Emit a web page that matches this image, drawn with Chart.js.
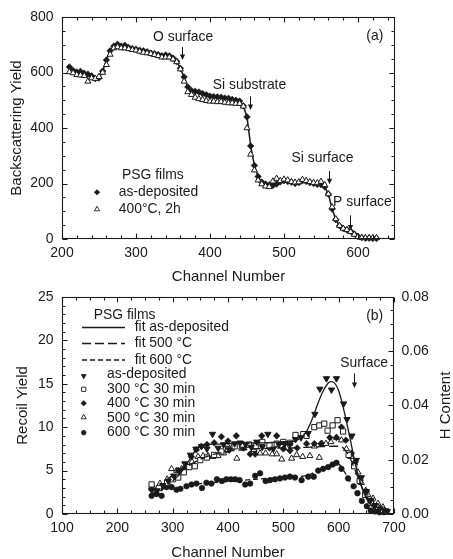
<!DOCTYPE html>
<html>
<head>
<meta charset="utf-8">
<title>PSG films: RBS and ERD spectra</title>
<script src="https://cdn.jsdelivr.net/npm/chart.js@4.4.1/dist/chart.umd.min.js"></script>
<style>
  html, body { margin: 0; padding: 0; background: #fff; width: 453px; height: 559px; overflow: hidden; }
  .panel { position: absolute; left: 0; }
  #panelA { top: 0; }
  #panelB { top: 280px; }
</style>
</head>
<body>
<canvas id="panelA" class="panel" width="453" height="300"></canvas>
<canvas id="panelB" class="panel" width="453" height="290"></canvas>
<script>
// ---------- Panel (a): RBS backscattering spectra ----------
const rbsChannels = [
  210, 215, 220, 225, 230, 235, 240, 245, 250, 255,
  260, 265, 270, 275, 280, 285, 290, 295, 300, 305,
  310, 315, 320, 325, 330, 335, 340, 345, 350, 355,
  360, 365, 370, 375, 380, 385, 390, 395, 400, 405,
  410, 415, 420, 425, 430, 435, 440, 445, 450, 455,
  460, 465, 470, 475, 480, 485, 490, 495, 500, 505,
  510, 515, 520, 525, 530, 535, 540, 545, 550, 555,
  560, 565, 570, 575, 580, 585, 590, 595, 600, 605,
  610, 615, 620, 625
];
const rbsAsDeposited = [
  620, 607, 602, 604, 597, 594, 588, 578, 580, 605,
  645, 678, 695, 702, 695, 698, 690, 686, 684, 680,
  678, 675, 670, 668, 665, 660, 663, 660, 652, 640,
  615, 584, 548, 535, 532, 530, 524, 520, 515, 513,
  512, 511, 508, 507, 503, 500, 497, 480, 440, 335,
  265, 225, 205, 198, 195, 193, 198, 206, 210, 207,
  205, 200, 203, 210, 207, 203, 200, 197, 196, 188,
  162, 108, 70, 48, 38, 33, 28, 18, 9, 5,
  3, 3, 2, 2
];
const rbsAnnealed400 = [
  602, 598, 592, 590, 588, 568, 580, 578, 585, 600,
  628, 665, 688, 692, 688, 688, 685, 682, 680, 676,
  672, 670, 668, 664, 660, 655, 655, 655, 648, 638,
  612, 568, 530, 520, 510, 505, 502, 498, 496, 496,
  494, 495, 492, 490, 490, 488, 488, 478, 400, 305,
  248, 212, 198, 190, 188, 208, 218, 210, 215, 212,
  206, 204, 205, 214, 210, 206, 203, 202, 207, 195,
  162, 115, 72, 48, 38, 33, 26, 16, 8, 5,
  4, 4, 4, 4
];
const rbsXTicks = [200, 300, 400, 500, 600];
const rbsYTicks = [0, 200, 400, 600, 800];

// ---------- Panel (b): ERD hydrogen recoil spectra ----------
const erdAsDepCh = [262, 272, 282, 292, 302, 312, 322, 332, 342, 352, 362, 372, 382, 392, 402, 412, 422, 432, 442, 452, 462, 472, 482, 492, 502, 512, 522, 532, 545, 557, 566, 578, 587, 596, 609, 615, 624, 632, 641, 650, 658, 666, 674, 682, 688];
const erdAsDepYield = [2.8, 2.7, 3.3, 3.8, 4.4, 5.0, 5.8, 6.8, 7.5, 7.8, 7.5, 9.2, 7.6, 8.0, 7.4, 8.1, 8.2, 8.0, 7.7, 8.3, 7.7, 9.2, 7.5, 8.0, 8.1, 8.0, 8.6, 8.8, 9.3, 11.5, 14.4, 15.6, 14.3, 15.6, 12.7, 10.9, 9.0, 6.2, 4.2, 2.6, 1.6, 1.0, 0.6, 0.4, 0.3];

const erd300Ch = [262, 275, 290, 300, 310, 320, 330, 340, 350, 362, 375, 388, 400, 412, 425, 438, 450, 462, 475, 488, 500, 512, 522, 536, 542, 556, 565, 574, 580, 589, 598, 608, 618, 628, 638, 648, 658, 668, 678, 686];
const erd300Yield = [3.4, 3.0, 3.6, 4.0, 4.2, 4.8, 5.4, 5.5, 6.2, 6.5, 6.8, 7.2, 7.4, 7.8, 8.0, 8.0, 7.8, 8.3, 7.9, 8.1, 8.3, 8.2, 9.1, 9.2, 9.0, 10.0, 10.2, 10.4, 9.6, 10.2, 10.8, 9.5, 6.8, 5.5, 3.8, 2.2, 1.3, 0.8, 0.5, 0.3];

const erd400Ch = [262, 270, 280, 290, 300, 310, 320, 334, 343, 352, 362, 375, 388, 400, 415, 428, 440, 449, 461, 475, 488, 500, 512, 525, 542, 556, 568, 584, 596, 605, 613, 623, 630, 639, 650, 659, 668, 676, 684];
const erd400Yield = [2.8, 2.4, 3.0, 3.5, 4.2, 5.0, 5.2, 6.6, 7.4, 7.8, 8.0, 8.2, 8.9, 8.4, 9.0, 7.6, 6.9, 6.9, 9.0, 7.6, 9.0, 7.5, 7.3, 7.6, 8.1, 8.1, 8.1, 8.8, 8.8, 10.0, 8.5, 7.0, 6.0, 3.9, 2.6, 1.4, 0.8, 0.5, 0.3];

const erd500Ch = [265, 277, 290, 298, 307, 316, 325, 335, 346, 355, 364, 373, 382, 392, 398, 407, 416, 425, 434, 447, 458, 468, 480, 488, 497, 506, 515, 524, 535, 548, 556, 565, 570, 577, 586, 596, 605, 614, 622, 629, 635, 641, 649, 653, 662, 671, 680];
const erd500Yield = [3.0, 3.5, 4.0, 5.2, 5.0, 5.2, 5.4, 6.0, 6.6, 6.7, 6.7, 6.6, 6.7, 7.0, 8.0, 7.6, 6.4, 7.7, 7.9, 7.4, 7.0, 7.0, 6.9, 6.9, 6.3, 7.6, 6.4, 6.8, 6.6, 6.7, 7.8, 6.5, 8.1, 8.1, 8.3, 8.8, 8.5, 7.5, 6.6, 5.9, 4.8, 3.6, 2.7, 2.2, 1.8, 1.2, 0.8];

const erd600Ch = [262, 271, 280, 289, 298, 307, 314, 325, 334, 343, 353, 361, 370, 380, 389, 397, 405, 413, 421, 431, 440, 449, 458, 468, 476, 485, 494, 503, 512, 521, 533, 545, 555, 563, 572, 581, 589, 596, 605, 617, 627, 634, 642, 651, 658, 666, 674, 682];
const erd600Yield = [2.1, 2.3, 2.1, 3.1, 3.1, 2.8, 2.9, 3.2, 3.4, 3.5, 3.0, 3.6, 3.5, 4.0, 3.8, 4.0, 4.0, 4.0, 3.9, 3.4, 3.5, 4.4, 4.7, 3.8, 3.9, 4.0, 4.1, 4.2, 4.3, 4.2, 3.9, 4.3, 4.3, 5.0, 5.2, 5.4, 5.7, 5.9, 5.2, 4.1, 3.2, 2.4, 1.5, 0.9, 0.4, 0.3, 0.2, 0.2];

const fitAsDepCh = [300, 310, 320, 330, 340, 350, 360, 380, 400, 420, 440, 460, 480, 500, 520, 530, 540, 550, 560, 570, 580, 585, 590, 600, 610, 620, 630, 640, 650, 660, 670];
const fitAsDepYield = [3.8, 4.4, 5.2, 6.2, 7.2, 7.8, 8.0, 8.05, 8.1, 8.15, 8.2, 8.2, 8.25, 8.3, 8.4, 8.7, 9.3, 10.6, 12.3, 13.9, 15.0, 15.25, 15.2, 14.2, 11.8, 8.9, 5.8, 3.4, 1.8, 0.9, 0.4];

const fit500Ch = [290, 310, 330, 350, 370, 390, 410, 430, 450, 470, 490, 510, 530, 550, 570, 590, 600, 610, 620, 630, 640, 650, 660, 670];
const fit500Yield = [4.0, 4.8, 5.6, 6.3, 6.8, 7.1, 7.3, 7.4, 7.5, 7.55, 7.6, 7.6, 7.65, 7.7, 7.75, 7.8, 7.8, 7.5, 6.5, 5.0, 3.4, 2.0, 1.0, 0.4];

const fit600Ch = [330, 350, 370, 390, 410, 430, 450, 470, 490, 510, 530, 545, 560, 575, 590, 600, 610, 620, 630, 640, 650, 660];
const fit600Yield = [3.4, 3.5, 3.6, 3.7, 3.8, 3.9, 4.0, 4.1, 4.15, 4.2, 4.3, 4.5, 4.9, 5.3, 5.7, 5.7, 4.9, 3.8, 2.6, 1.6, 0.8, 0.3];

const erdXTicks = [100, 200, 300, 400, 500, 600, 700];
const erdYTicks = [0, 5, 10, 15, 20, 25];
const erdHTicks = [0, 0.02, 0.04, 0.06, 0.08];

// ---------- shared styling ----------
const FONT = "'Liberation Sans', Arial, Helvetica, sans-serif";
const INK = '#1a1a1a';
const TEXT_PX = 13.9;
Chart.defaults.font.family = FONT;
Chart.defaults.color = INK;

const pairs = (xs, ys) => xs.map((x, i) => ({ x: x, y: ys[i] }));
const range = (a, b, step) => { const out = []; for (let v = a; v <= b + 1e-9; v += step) out.push(+v.toFixed(6)); return out; };
const fixTicks = vals => (s => { s.ticks = vals.map(v => ({ value: v })); });

// Frame box plus inward ticks on every side
function makeFrame(axes) {
  return {
    id: 'frame',
    afterDraw(chart) {
      const { ctx, chartArea: a } = chart;
      const L = Math.round(a.left) + 0.5, R = Math.round(a.right) - 0.5;
      const T = Math.round(a.top) + 0.5, B = Math.round(a.bottom) - 0.5;
      ctx.save();
      ctx.strokeStyle = INK;
      ctx.lineWidth = 1.1;
      ctx.strokeRect(L, T, R - L, B - T);
      axes.forEach(ax => {
        const s = chart.scales[ax.scale];
        const mark = (vals, len) => {
          ctx.beginPath();
          vals.forEach(v => {
            const p = Math.round(s.getPixelForValue(v)) + 0.5;
            ax.sides.forEach(side => {
              if (side === 'bottom') { ctx.moveTo(p, B); ctx.lineTo(p, B - len); }
              if (side === 'top') { ctx.moveTo(p, T); ctx.lineTo(p, T + len); }
              if (side === 'left') { ctx.moveTo(L, p); ctx.lineTo(L + len, p); }
              if (side === 'right') { ctx.moveTo(R, p); ctx.lineTo(R - len, p); }
            });
          });
          ctx.stroke();
        };
        mark(ax.minor, 3);
        mark(ax.major, 5);
      });
      ctx.restore();
    }
  };
}

// Labels and arrows placed in data coordinates
function makeNotes(notes, arrows) {
  return {
    id: 'notes',
    afterDraw(chart) {
      const { ctx } = chart;
      const x = chart.scales.x, y = chart.scales.y;
      ctx.save();
      ctx.fillStyle = INK;
      ctx.strokeStyle = INK;
      ctx.lineWidth = 1;
      ctx.font = TEXT_PX + 'px ' + FONT;
      ctx.textBaseline = 'middle';
      notes.forEach(n => {
        ctx.textAlign = n.align || 'center';
        ctx.fillText(n.text, x.getPixelForValue(n.x), y.getPixelForValue(n.y));
      });
      arrows.forEach(ar => {
        const px = Math.round(x.getPixelForValue(ar.x)) + 0.5;
        const y1 = y.getPixelForValue(ar.from), y2 = y.getPixelForValue(ar.to);
        ctx.beginPath();
        ctx.moveTo(px, y1);
        ctx.lineTo(px, y2 - 4);
        ctx.stroke();
        ctx.beginPath();
        ctx.moveTo(px - 2.6, y2 - 5.5);
        ctx.lineTo(px + 2.6, y2 - 5.5);
        ctx.lineTo(px, y2);
        ctx.closePath();
        ctx.fill();
      });
      ctx.restore();
    }
  };
}

// Key drawn inside the plot: text rows, line samples and marker samples
function makeKey(items) {
  return {
    id: 'key',
    afterDraw(chart) {
      const { ctx } = chart;
      ctx.save();
      ctx.font = TEXT_PX + 'px ' + FONT;
      ctx.textBaseline = 'middle';
      ctx.textAlign = 'left';
      items.forEach(it => {
        if (it.kind === 'text') {
          ctx.fillStyle = INK;
          ctx.fillText(it.text, it.x, it.y);
        } else if (it.kind === 'line') {
          ctx.strokeStyle = INK;
          ctx.lineWidth = 1.3;
          ctx.setLineDash(it.dash || []);
          ctx.beginPath();
          ctx.moveTo(it.x1, it.y);
          ctx.lineTo(it.x2, it.y);
          ctx.stroke();
          ctx.setLineDash([]);
        } else if (it.kind === 'marker') {
          ctx.fillStyle = it.fill;
          ctx.strokeStyle = INK;
          ctx.lineWidth = it.borderWidth;
          Chart.helpers.drawPoint(ctx, {
            pointStyle: it.style, radius: it.radius, rotation: it.rotation || 0, borderWidth: it.borderWidth
          }, it.x, it.y);
        }
      });
      ctx.restore();
    }
  };
}

// Right-hand axis title, read bottom-to-top like the left one
function makeSideTitle(text, x) {
  return {
    id: 'sideTitle',
    afterDraw(chart) {
      const { ctx, chartArea: a } = chart;
      ctx.save();
      ctx.fillStyle = INK;
      ctx.font = '15px ' + FONT;
      ctx.textAlign = 'center';
      ctx.textBaseline = 'middle';
      ctx.translate(x, (a.top + a.bottom) / 2);
      ctx.rotate(-Math.PI / 2);
      ctx.fillText(text, 0, 0);
      ctx.restore();
    }
  };
}

const tickFont = { size: 14 };
const titleFont = { size: 15, lineHeight: 1 };
const common = {
  responsive: false,
  animation: false,
  events: [],
  plugins: { legend: { display: false }, tooltip: { enabled: false } }
};

// ---------- Chart (a) ----------
new Chart(document.getElementById('panelA'), {
  type: 'scatter',
  data: {
    datasets: [
      {
        label: '400°C, 2h',
        data: pairs(rbsChannels, rbsAnnealed400),
        pointStyle: 'triangle', pointRadius: 3.5, pointBorderWidth: 1,
        pointBackgroundColor: '#ffffff', pointBorderColor: INK,
        showLine: false, clip: false, order: 0
      },
      {
        label: 'as-deposited',
        data: pairs(rbsChannels, rbsAsDeposited),
        pointStyle: 'rectRot', pointRadius: 3.3, pointBorderWidth: 0.6,
        pointBackgroundColor: INK, pointBorderColor: INK,
        showLine: true, borderColor: INK, borderWidth: 1.5, clip: false, order: 1
      }
    ]
  },
  options: Object.assign({}, common, {
    layout: { padding: { left: 0, right: 58, top: 17, bottom: 0 } },
    scales: {
      x: {
        type: 'linear', position: 'bottom', min: 200, max: 650,
        grid: { display: false, drawTicks: false }, border: { display: false },
        afterBuildTicks: fixTicks(rbsXTicks),
        afterFit: s => { s.height = 61; },
        ticks: { padding: 6, font: tickFont, maxRotation: 0, autoSkip: false, callback: v => String(v) },
        title: { display: true, text: 'Channel Number', font: titleFont, padding: { top: 0, bottom: 15.3 } }
      },
      y: {
        type: 'linear', position: 'left', min: 0, max: 800,
        grid: { display: false, drawTicks: false }, border: { display: false },
        afterBuildTicks: fixTicks(rbsYTicks),
        afterFit: s => { s.width = 62; },
        ticks: { padding: 8.5, font: tickFont, callback: v => String(v) },
        title: { display: true, text: 'Backscattering Yield', font: titleFont, padding: { top: 9, bottom: 0 } }
      }
    }
  }),
  plugins: [
    makeFrame([
      { scale: 'x', sides: ['bottom', 'top'], major: rbsXTicks, minor: range(220, 640, 20).filter(v => v % 100 !== 0) },
      { scale: 'y', sides: ['left', 'right'], major: rbsYTicks, minor: range(50, 750, 50).filter(v => v % 200 !== 0) }
    ]),
    makeNotes(
      [
        { text: 'O surface', x: 363.7, y: 728 },
        { text: 'Si substrate', x: 453.4, y: 556 },
        { text: 'Si surface', x: 552, y: 290 },
        { text: 'P surface', x: 606, y: 131 },
        { text: '(a)', x: 622.7, y: 730 }
      ],
      [
        { x: 362.5, from: 692, to: 645 },
        { x: 454.5, from: 514, to: 465 },
        { x: 561, from: 245, to: 197 },
        { x: 589.6, from: 85, to: 31 }
      ]
    ),
    makeKey([
      { kind: 'text', text: 'PSG films', x: 122, y: 175 },
      { kind: 'marker', style: 'rectRot', radius: 2.8, fill: INK, borderWidth: 0.5, x: 97, y: 192.3 },
      { kind: 'text', text: 'as-deposited', x: 118.7, y: 192 },
      { kind: 'marker', style: 'triangle', radius: 3, fill: '#ffffff', borderWidth: 0.9, x: 97, y: 209.3 },
      { kind: 'text', text: '400°C, 2h', x: 118.7, y: 209 }
    ])
  ]
});

// ---------- Chart (b) ----------
const markerSet = (label, xs, ys, style, radius, fill, extra) => Object.assign({
  label: label,
  data: pairs(xs, ys),
  pointStyle: style, pointRadius: radius, pointBorderWidth: 1,
  pointBackgroundColor: fill, pointBorderColor: INK,
  showLine: false, clip: false, yAxisID: 'y'
}, extra || {});

const fitSet = (label, xs, ys, dash) => ({
  label: label,
  data: pairs(xs, ys),
  showLine: true, pointRadius: 0, borderColor: INK, borderWidth: 1.3,
  borderDash: dash, cubicInterpolationMode: 'monotone', clip: false, yAxisID: 'y', order: 0
});

new Chart(document.getElementById('panelB'), {
  type: 'scatter',
  data: {
    datasets: [
      fitSet('fit as-deposited', fitAsDepCh, fitAsDepYield, []),
      fitSet('fit 500 °C', fit500Ch, fit500Yield, [9, 4]),
      fitSet('fit 600 °C', fit600Ch, fit600Yield, [5, 3]),
      markerSet('as-deposited', erdAsDepCh, erdAsDepYield, 'triangle', 3.6, INK, { pointRotation: 180, order: 1 }),
      markerSet('300 °C 30 min', erd300Ch, erd300Yield, 'rect', 3.7, '#ffffff', { order: 2 }),
      markerSet('400 °C 30 min', erd400Ch, erd400Yield, 'rectRot', 3.3, INK, { pointBorderWidth: 0.6, order: 3 }),
      markerSet('500 °C 30 min', erd500Ch, erd500Yield, 'triangle', 3.5, '#ffffff', { order: 4 }),
      markerSet('600 °C 30 min', erd600Ch, erd600Yield, 'circle', 2.8, INK, { pointBorderWidth: 0.6, order: 5 })
    ]
  },
  options: Object.assign({}, common, {
    layout: { padding: { left: 0, right: 0, top: 15, bottom: 0 } },
    scales: {
      x: {
        type: 'linear', position: 'bottom', min: 100, max: 700,
        grid: { display: false, drawTicks: false }, border: { display: false },
        afterBuildTicks: fixTicks(erdXTicks),
        afterFit: s => { s.height = 56; },
        ticks: { padding: 6, font: tickFont, maxRotation: 0, autoSkip: false, callback: v => String(v) },
        title: { display: true, text: 'Channel Number', font: titleFont, padding: { top: 0, bottom: 9.7 } }
      },
      y: {
        type: 'linear', position: 'left', min: 0, max: 25,
        grid: { display: false, drawTicks: false }, border: { display: false },
        afterBuildTicks: fixTicks(erdYTicks),
        afterFit: s => { s.width = 62; },
        ticks: { padding: 8.5, font: tickFont, callback: v => String(v) },
        title: { display: true, text: 'Recoil Yield', font: titleFont, padding: { top: 15.8, bottom: 0 } }
      },
      y2: {
        type: 'linear', position: 'right', min: 0, max: 0.08,
        grid: { display: false, drawTicks: false }, border: { display: false },
        afterBuildTicks: fixTicks(erdHTicks),
        afterFit: s => { s.width = 59; },
        ticks: { padding: 7.5, font: tickFont, callback: v => v.toFixed(2) },
        title: { display: false }
      }
    }
  }),
  plugins: [
    makeFrame([
      { scale: 'x', sides: ['bottom', 'top'], major: erdXTicks, minor: range(125, 675, 25).filter(v => v % 100 !== 0) },
      { scale: 'y', sides: ['left'], major: erdYTicks, minor: range(1, 24, 1).filter(v => v % 5 !== 0) },
      { scale: 'y2', sides: ['right'], major: erdHTicks, minor: range(0.005, 0.075, 0.005).filter(v => Math.abs(v / 0.02 - Math.round(v / 0.02)) > 1e-6) }
    ]),
    makeNotes(
      [
        { text: 'Surface', x: 646, y: 17.4 },
        { text: '(b)', x: 665, y: 22.8 }
      ],
      [
        { x: 627.7, from: 16.2, to: 14.5 }
      ]
    ),
    makeKey([
      { kind: 'text', text: 'PSG films', x: 93.7, y: 35 },
      { kind: 'line', x1: 82, x2: 125, y: 47.5 },
      { kind: 'text', text: 'fit as-deposited', x: 134.7, y: 47.5 },
      { kind: 'line', x1: 82, x2: 125, y: 63.5, dash: [9, 4] },
      { kind: 'text', text: 'fit 500 °C', x: 134.7, y: 63.5 },
      { kind: 'line', x1: 82, x2: 125, y: 80, dash: [5, 3] },
      { kind: 'text', text: 'fit 600 °C', x: 134.7, y: 80 },
      { kind: 'marker', style: 'triangle', rotation: 180, radius: 2.8, fill: INK, borderWidth: 0.8, x: 83.7, y: 96 },
      { kind: 'text', text: 'as-deposited', x: 107, y: 94.5 },
      { kind: 'marker', style: 'rect', radius: 3, fill: '#ffffff', borderWidth: 0.9, x: 83.7, y: 109.3 },
      { kind: 'text', text: '300 °C 30 min', x: 107, y: 109 },
      { kind: 'marker', style: 'rectRot', radius: 2.8, fill: INK, borderWidth: 0.5, x: 83.7, y: 123.3 },
      { kind: 'text', text: '400 °C 30 min', x: 107, y: 123.5 },
      { kind: 'marker', style: 'triangle', radius: 3, fill: '#ffffff', borderWidth: 0.9, x: 83.7, y: 137.3 },
      { kind: 'text', text: '500 °C 30 min', x: 107, y: 138 },
      { kind: 'marker', style: 'circle', radius: 2.4, fill: INK, borderWidth: 0.5, x: 83.7, y: 152.7 },
      { kind: 'text', text: '600 °C 30 min', x: 107, y: 152.5 }
    ]),
    makeSideTitle('H Content', 445.5)
  ]
});
</script>
</body>
</html>
